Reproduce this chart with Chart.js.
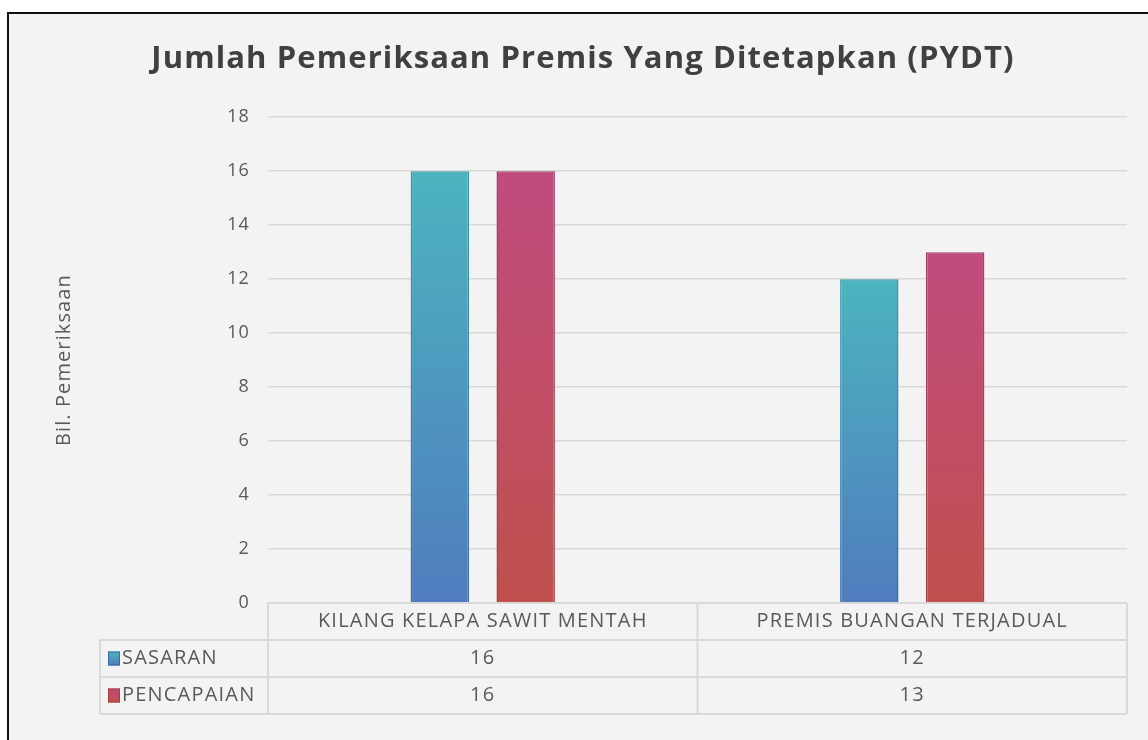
<!DOCTYPE html>
<html>
<head>
<meta charset="utf-8">
<script src="https://cdn.jsdelivr.net/npm/chart.js@4/dist/chart.umd.min.js"></script>
<style>
  html, body { margin: 0; padding: 0; background: #fff; }
  #wrap { width: 1148px; height: 740px; }
</style>
</head>
<body>
<div id="wrap"><canvas id="pydtChart" width="1148" height="740"></canvas></div>
<script>
const categories = ['KILANG KELAPA SAWIT MENTAH', 'PREMIS BUANGAN TERJADUAL'];
const seriesNames = ['SASARAN', 'PENCAPAIAN'];
const sasaran = [16, 12];
const pencapaian = [16, 13];
const yMin = 0;
const yMax = 18;
const yStep = 2;

const FONT = '"Open Sans", sans-serif';
const textGrey = '#595959';
const lineGrey = '#d9d9d9';

// top / bottom colour of each series, Excel style gradient per bar
const fills = [
  { top: '#4cb4bf', bottom: '#4f7cbe', edgeTop: '#3b9aa5', edgeBottom: '#3d6aa5' },
  { top: '#c14b7e', bottom: '#c0504d', edgeTop: '#a33c68', edgeBottom: '#a2403d' }
];

function barGradient(ctx, top, bottom) {
  const chart = ctx.chart;
  if (!chart.chartArea || ctx.type !== 'data') return top;
  const y = chart.scales.y;
  const yTop = y.getPixelForValue(ctx.raw);
  const yBase = y.getPixelForValue(0);
  const g = chart.ctx.createLinearGradient(0, yTop, 0, yBase);
  g.addColorStop(0, top);
  g.addColorStop(1, bottom);
  return g;
}

const framePlugin = {
  id: 'frame',
  beforeDraw(chart) {
    const c = chart.ctx;
    c.save();
    c.fillStyle = '#ffffff';
    c.fillRect(0, 0, chart.width, chart.height);
    c.fillStyle = '#f3f3f3';
    c.fillRect(8, 13, chart.width, chart.height);
    c.strokeStyle = '#111';
    c.lineWidth = 2;
    c.strokeRect(8, 13, chart.width + 20, chart.height + 20);
    c.restore();
    // Excel text in the source is loosely spaced
    c.letterSpacing = '1.1px';
  }
};

const tablePlugin = {
  id: 'dataTable',
  afterDraw(chart) {
    const c = chart.ctx;
    const area = chart.chartArea;
    const x = chart.scales.x;
    const n = categories.length;
    const cw = (area.right - area.left) / n;
    const top = area.bottom;
    const rowH = 37;
    const tableLeft = 100;
    const bottom = top + rowH * 3;

    c.save();
    c.letterSpacing = '1.2px';
    c.strokeStyle = lineGrey;
    c.lineWidth = 2;
    c.beginPath();
    c.moveTo(area.left, top);
    c.lineTo(area.right, top);
    for (let r = 1; r <= 3; r++) {
      c.moveTo(tableLeft, top + rowH * r);
      c.lineTo(area.right, top + rowH * r);
    }
    for (let i = 0; i <= n; i++) {
      const px = area.left + cw * i;
      c.moveTo(px, top);
      c.lineTo(px, bottom);
    }
    c.moveTo(tableLeft, top + rowH);
    c.lineTo(tableLeft, bottom);
    c.stroke();

    c.fillStyle = textGrey;
    c.font = '20px ' + FONT;
    c.textBaseline = 'middle';
    c.textAlign = 'center';
    categories.forEach((cat, i) => {
      c.fillText(cat, x.getPixelForValue(i), top + rowH / 2);
    });

    const rows = [sasaran, pencapaian];
    rows.forEach((vals, r) => {
      const cy = top + rowH * (r + 1) + rowH / 2;
      c.textAlign = 'center';
      c.fillStyle = textGrey;
      vals.forEach((v, i) => c.fillText(String(v), x.getPixelForValue(i), cy));

      // legend key
      const f = fills[r];
      const g = c.createLinearGradient(0, cy - 7, 0, cy + 7);
      g.addColorStop(0, f.top);
      g.addColorStop(1, f.bottom);
      c.fillStyle = g;
      c.fillRect(tableLeft + 8, cy - 7, 12, 14);
      c.strokeStyle = f.edgeBottom;
      c.lineWidth = 1;
      c.strokeRect(tableLeft + 8.5, cy - 6.5, 11, 13);

      c.fillStyle = textGrey;
      c.textAlign = 'left';
      c.fillText(seriesNames[r], tableLeft + 22, cy);
    });
    c.restore();
  }
};

new Chart(document.getElementById('pydtChart'), {
  type: 'bar',
  data: {
    labels: categories,
    datasets: [
      {
        label: seriesNames[0],
        data: sasaran,
        backgroundColor: ctx => barGradient(ctx, fills[0].top, fills[0].bottom),
        borderColor: ctx => barGradient(ctx, fills[0].edgeTop, fills[0].edgeBottom),
        borderWidth: 1.5,
        categoryPercentage: 0.4,
        barPercentage: 0.68
      },
      {
        label: seriesNames[1],
        data: pencapaian,
        backgroundColor: ctx => barGradient(ctx, fills[1].top, fills[1].bottom),
        borderColor: ctx => barGradient(ctx, fills[1].edgeTop, fills[1].edgeBottom),
        borderWidth: 1.5,
        categoryPercentage: 0.4,
        barPercentage: 0.68
      }
    ]
  },
  options: {
    responsive: false,
    animation: false,
    layout: { padding: { left: 39, right: 21, top: 0, bottom: 137 } },
    plugins: {
      legend: { display: false },
      tooltip: { enabled: false },
      title: {
        display: true,
        text: 'Jumlah Pemeriksaan Premis Yang Ditetapkan (PYDT)',
        color: '#404040',
        font: { family: FONT, size: 31, weight: 'bold', lineHeight: 1.2 },
        padding: { top: 41, bottom: 39 }
      }
    },
    scales: {
      x: { display: false },
      y: {
        min: yMin,
        max: yMax,
        afterFit(scale) { scale.width = 229; },
        ticks: { stepSize: yStep, color: textGrey, padding: 18, font: { family: FONT, size: 18 } },
        grid: { color: lineGrey, lineWidth: 1.5, drawTicks: false },
        border: { display: false },
        title: {
          display: true,
          text: 'Bil. Pemeriksaan',
          color: textGrey,
          padding: { top: 13, bottom: 0 },
          font: { family: FONT, size: 20 }
        }
      }
    }
  },
  plugins: [framePlugin, tablePlugin]
});
</script>
</body>
</html>
